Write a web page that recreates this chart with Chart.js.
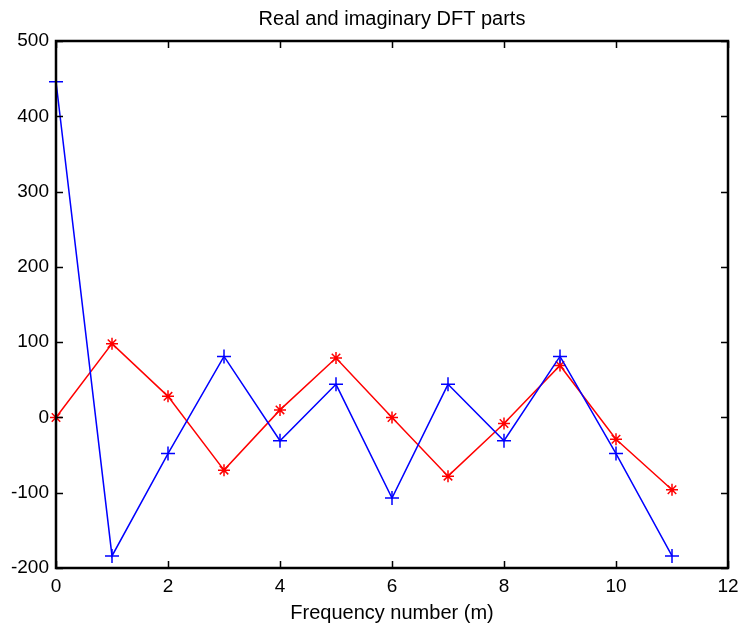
<!DOCTYPE html>
<html>
<head>
<meta charset="utf-8">
<script src="https://cdn.jsdelivr.net/npm/chart.js@4/dist/chart.umd.min.js"></script>
<style>
html,body{margin:0;padding:0;background:#fff;}
#wrap{width:740px;height:628px;}
</style>
</head>
<body>
<div id="wrap"><canvas id="c" width="740" height="628"></canvas></div>
<script>
const frequencies = [0,1,2,3,4,5,6,7,8,9,10,11];
const realPart = [446,-184,-48,81,-31,44,-107,44,-31,81,-48,-184];
const imagPart = [0,98,28,-70,10,79,0,-78,-8,69,-29,-96];
const xTicks = [0,2,4,6,8,10,12];
const yTicks = [-200,-100,0,100,200,300,400,500];

const FONT = "'Liberation Sans', Arial, sans-serif";

const framePlugin = {
  id: 'frame',
  afterLayout(chart) {
    // centre the title over the plot area, as in the reference
    if (chart.titleBlock) {
      chart.titleBlock.left = chart.chartArea.left;
      chart.titleBlock.right = chart.chartArea.right;
    }
  },
  afterDatasetsDraw(chart) {
    const {ctx, chartArea: a, scales: {x, y}} = chart;
    ctx.save();
    ctx.strokeStyle = '#000';
    ctx.lineWidth = 1.5;
    const tl = 7;
    ctx.beginPath();
    xTicks.forEach(v => {
      const px = Math.round(x.getPixelForValue(v)) + 0.5;
      ctx.moveTo(px, a.bottom); ctx.lineTo(px, a.bottom - tl);
      ctx.moveTo(px, a.top); ctx.lineTo(px, a.top + tl);
    });
    yTicks.forEach(v => {
      const py = Math.round(y.getPixelForValue(v)) + 0.5;
      ctx.moveTo(a.left, py); ctx.lineTo(a.left + tl, py);
      ctx.moveTo(a.right, py); ctx.lineTo(a.right - tl, py);
    });
    ctx.stroke();
    ctx.lineWidth = 2.5;
    ctx.strokeRect(a.left, a.top, a.right - a.left, a.bottom - a.top);
    ctx.restore();
  }
};

const toPts = arr => arr.map((v, i) => ({x: frequencies[i], y: v}));

new Chart(document.getElementById('c'), {
  type: 'line',
  data: {
    datasets: [
      {
        label: 'Real',
        data: toPts(realPart),
        borderColor: '#0000ff',
        backgroundColor: '#0000ff',
        borderWidth: 1.5,
        pointStyle: 'cross',
        pointRadius: 7,
        pointBorderWidth: 1.5,
        pointHoverRadius: 7,
        tension: 0,
        fill: false,
        clip: false
      },
      {
        label: 'Imaginary',
        data: toPts(imagPart),
        borderColor: '#ff0000',
        backgroundColor: '#ff0000',
        borderWidth: 1.5,
        pointStyle: 'star',
        pointRadius: 6,
        pointBorderWidth: 1.5,
        pointHoverRadius: 6,
        tension: 0,
        fill: false,
        clip: false
      }
    ]
  },
  options: {
    responsive: false,
    animation: false,
    layout: {padding: {left: 0, right: 12, top: 0, bottom: 0}},
    plugins: {
      legend: {display: false},
      tooltip: {enabled: false},
      title: {
        display: true,
        text: 'Real and imaginary DFT parts',
        color: '#000',
        font: {family: FONT, size: 20, weight: 'normal'},
        padding: {top: 7.5, bottom: 9.5}
      }
    },
    scales: {
      x: {
        type: 'linear',
        min: 0, max: 12,
        grid: {display: false, drawTicks: false},
        border: {display: false},
        afterBuildTicks: s => { s.ticks = xTicks.map(v => ({value: v})); },
        afterFit: s => { s.height = 60; s.paddingRight = 0; s.paddingLeft = 0; },
        ticks: {color: '#000', font: {family: FONT, size: 19}, padding: 7, maxRotation: 0, autoSkip: false},
        title: {display: true, text: 'Frequency number (m)', color: '#000',
                font: {family: FONT, size: 20}, padding: {top: 0, bottom: 3}}
      },
      y: {
        type: 'linear',
        min: -200, max: 500,
        grid: {display: false, drawTicks: false},
        border: {display: false},
        afterBuildTicks: s => { s.ticks = yTicks.map(v => ({value: v})); },
        afterFit: s => { s.width = 56; s.paddingTop = 0; s.paddingBottom = 0; },
        ticks: {color: '#000', font: {family: FONT, size: 19}, padding: 7, autoSkip: false}
      }
    }
  },
  plugins: [framePlugin]
});
</script>
</body>
</html>
